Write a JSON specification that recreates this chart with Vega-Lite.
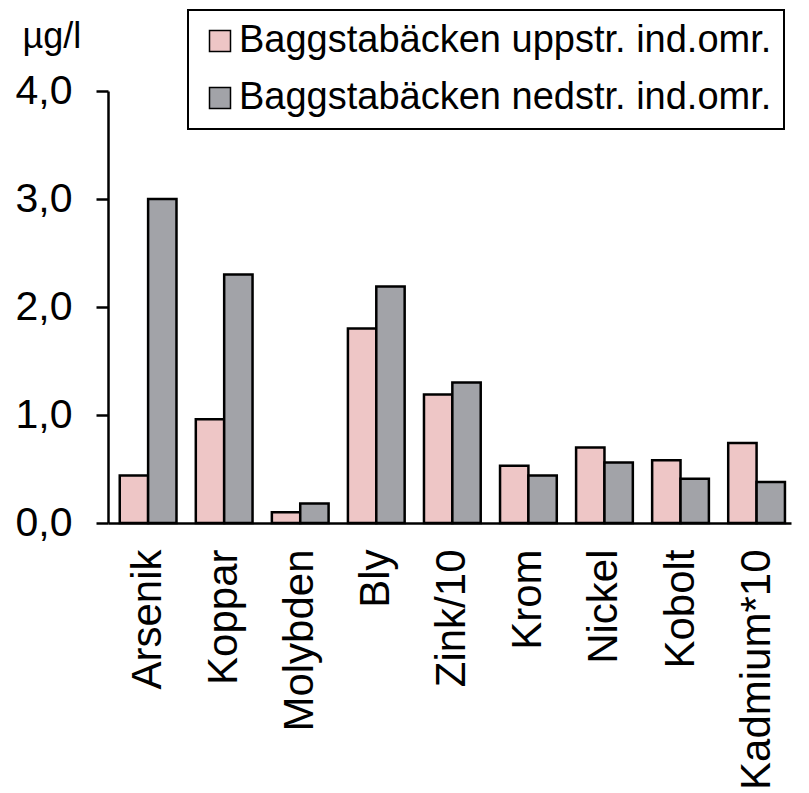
{
  "$schema": "https://vega.github.io/schema/vega-lite/v6.json",
  "autosize": "none",
  "width": 683,
  "height": 432,
  "padding": {"left": 108, "top": 91, "right": 18, "bottom": 270},
  "background": "white",
  "config": {
    "view": {"stroke": null},
    "font": "Liberation Sans",
    "legend": {"strokeWidth": 2}
  },
  "data": {
    "values": [
      {"metal": "Arsenik", "series": "up", "value": 0.44},
      {"metal": "Arsenik", "series": "down", "value": 3.0},
      {"metal": "Koppar", "series": "up", "value": 0.96},
      {"metal": "Koppar", "series": "down", "value": 2.3},
      {"metal": "Molybden", "series": "up", "value": 0.1},
      {"metal": "Molybden", "series": "down", "value": 0.18},
      {"metal": "Bly", "series": "up", "value": 1.8},
      {"metal": "Bly", "series": "down", "value": 2.19},
      {"metal": "Zink/10", "series": "up", "value": 1.19},
      {"metal": "Zink/10", "series": "down", "value": 1.3},
      {"metal": "Krom", "series": "up", "value": 0.53},
      {"metal": "Krom", "series": "down", "value": 0.44},
      {"metal": "Nickel", "series": "up", "value": 0.7},
      {"metal": "Nickel", "series": "down", "value": 0.56},
      {"metal": "Kobolt", "series": "up", "value": 0.58},
      {"metal": "Kobolt", "series": "down", "value": 0.41},
      {"metal": "Kadmium*10", "series": "up", "value": 0.74},
      {"metal": "Kadmium*10", "series": "down", "value": 0.38}
    ]
  },
  "mark": {"type": "bar", "stroke": "black", "strokeWidth": 2.5},
  "encoding": {
    "x": {
      "field": "metal",
      "type": "nominal",
      "sort": null,
      "scale": {"paddingInner": 0.254, "paddingOuter": 0.117, "align": 0.66},
      "axis": {
        "title": null,
        "ticks": false,
        "labelAngle": -90,
        "labelAlign": "right",
        "labelBaseline": "middle",
        "labelPadding": 26,
        "labelFontSize": 42,
        "labelLimit": 400,
        "labelColor": "black",
        "labelFont": "Liberation Sans",
        "domainColor": "black",
        "domainWidth": 2.5
      }
    },
    "xOffset": {
      "field": "series",
      "type": "nominal",
      "sort": ["up", "down"],
      "scale": {"paddingInner": 0, "paddingOuter": 0}
    },
    "y": {
      "field": "value",
      "type": "quantitative",
      "scale": {"domain": [0, 4], "nice": false},
      "axis": {
        "values": [0, 1, 2, 3, 4],
        "labelExpr": "replace(format(datum.value, '.1f'), '.', ',')",
        "grid": false,
        "tickSize": 12,
        "tickWidth": 2.5,
        "tickColor": "black",
        "domainColor": "black",
        "domainWidth": 2.5,
        "labelFontSize": 41,
        "labelColor": "black",
        "labelFont": "Liberation Sans",
        "labelPadding": 24,
        "title": "µg/l",
        "titleAngle": 0,
        "titleX": -86,
        "titleY": -44,
        "titleAlign": "left",
        "titleBaseline": "alphabetic",
        "titleFontSize": 36,
        "titleFontWeight": "normal",
        "titleFont": "Liberation Sans",
        "titleColor": "black"
      }
    },
    "color": {
      "field": "series",
      "type": "nominal",
      "scale": {
        "domain": ["up", "down"],
        "range": ["#eec6c6", "#a2a3a8"]
      },
      "legend": {
        "title": null,
        "orient": "none",
        "legendX": 80,
        "legendY": -81,
        "direction": "vertical",
        "padding": 12,
        "strokeColor": "black",
        "fillColor": "white",
        "symbolType": "square",
        "symbolSize": 441,
        "symbolStrokeColor": "black",
        "symbolStrokeWidth": 1.5,
        "symbolOffset": 1,
        "symbolOpacity": 1,
        "labelFontSize": 38,
        "labelFont": "Liberation Sans",
        "labelColor": "black",
        "labelOffset": 0,
        "labelLimit": 800,
        "rowPadding": 19,
        "labelExpr": "datum.value == 'up' ? 'Baggstabäcken uppstr. ind.omr.' : 'Baggstabäcken nedstr. ind.omr.'"
      }
    }
  }
}
